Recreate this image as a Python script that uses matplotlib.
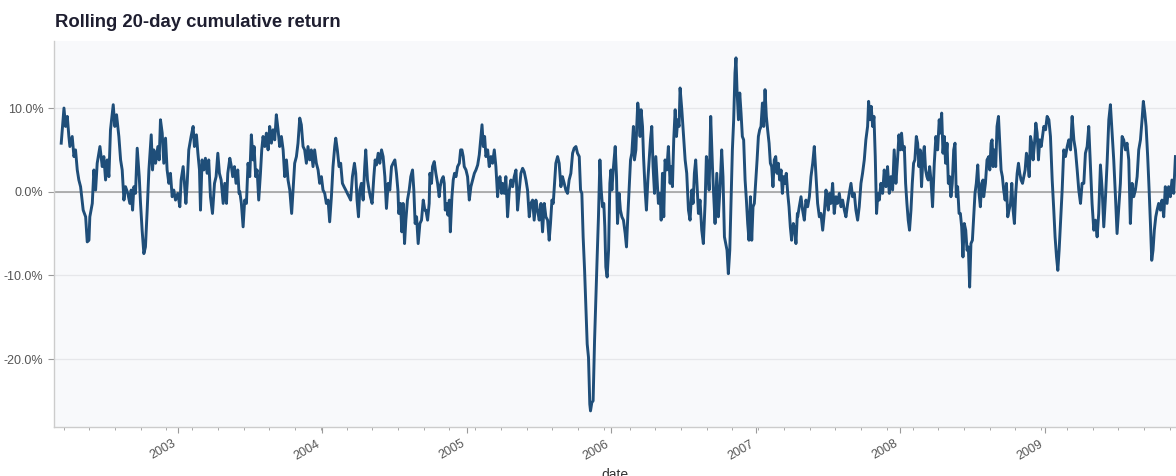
import matplotlib
matplotlib.use("Agg")
import matplotlib.pyplot as plt
from matplotlib.ticker import FuncFormatter, MultipleLocator
import matplotlib.dates as mdates
import pandas as pd

# sample times as fractional years
frac_year = [
    2002.195, 2002.214, 2002.225, 2002.237, 2002.248, 2002.255, 2002.271, 2002.283, 2002.294, 2002.306,
    2002.317, 2002.329, 2002.347, 2002.364, 2002.375, 2002.387, 2002.393, 2002.410, 2002.421, 2002.433,
    2002.444, 2002.463, 2002.479, 2002.490, 2002.502, 2002.513, 2002.525, 2002.536, 2002.555, 2002.566,
    2002.578, 2002.594, 2002.606, 2002.617, 2002.629, 2002.640, 2002.656, 2002.670, 2002.679, 2002.689,
    2002.698, 2002.709, 2002.721, 2002.735, 2002.744, 2002.755, 2002.767, 2002.778, 2002.790, 2002.802,
    2002.818, 2002.827, 2002.836, 2002.848, 2002.864, 2002.873, 2002.882, 2002.894, 2002.905, 2002.917,
    2002.928, 2002.940, 2002.951, 2002.963, 2002.974, 2002.986, 2003.002, 2003.016, 2003.025, 2003.039,
    2003.048, 2003.058, 2003.067, 2003.078, 2003.094, 2003.108, 2003.117, 2003.131, 2003.141, 2003.152,
    2003.159, 2003.170, 2003.182, 2003.193, 2003.205, 2003.216, 2003.228, 2003.242, 2003.256, 2003.267,
    2003.279, 2003.290, 2003.302, 2003.316, 2003.327, 2003.339, 2003.348, 2003.362, 2003.373, 2003.382,
    2003.394, 2003.405, 2003.417, 2003.426,
    2003.431, 2003.442, 2003.454, 2003.465, 2003.477, 2003.488, 2003.500, 2003.511, 2003.523, 2003.530,
    2003.541, 2003.551, 2003.562, 2003.574, 2003.583, 2003.592, 2003.604, 2003.615, 2003.627, 2003.638,
    2003.650, 2003.661, 2003.673, 2003.684, 2003.696, 2003.707, 2003.719, 2003.731, 2003.742, 2003.754,
    2003.765, 2003.777, 2003.790, 2003.800, 2003.811, 2003.823, 2003.834, 2003.846, 2003.857, 2003.869,
    2003.880, 2003.892, 2003.903, 2003.915, 2003.926, 2003.938, 2003.949, 2003.961, 2003.973, 2003.984,
    2003.996, 2004.007, 2004.019, 2004.030, 2004.042, 2004.053, 2004.065, 2004.076, 2004.088, 2004.095,
    2004.106, 2004.118, 2004.129, 2004.141, 2004.152, 2004.164, 2004.175, 2004.187, 2004.198, 2004.210,
    2004.224, 2004.233, 2004.242, 2004.252, 2004.261, 2004.272, 2004.284, 2004.295, 2004.302, 2004.314,
    2004.325, 2004.334, 2004.346, 2004.358, 2004.367, 2004.376, 2004.388, 2004.399, 2004.411, 2004.422,
    2004.434, 2004.445, 2004.457, 2004.468, 2004.480, 2004.491, 2004.503, 2004.514, 2004.524, 2004.530,
    2004.542, 2004.551, 2004.560, 2004.570, 2004.579, 2004.590, 2004.602, 2004.613, 2004.625, 2004.634,
    2004.643, 2004.653, 2004.664, 2004.676, 2004.687, 2004.699, 2004.710,
    2004.717, 2004.729, 2004.740, 2004.745, 2004.756, 2004.763, 2004.775, 2004.786, 2004.798, 2004.809,
    2004.816, 2004.826, 2004.837, 2004.844, 2004.851, 2004.860, 2004.869, 2004.879, 2004.886, 2004.897,
    2004.906, 2004.915, 2004.925, 2004.936, 2004.948, 2004.957, 2004.966, 2004.975, 2004.982, 2004.994,
    2005.005, 2005.017, 2005.028, 2005.040, 2005.052, 2005.063, 2005.075, 2005.086, 2005.098, 2005.105,
    2005.114, 2005.123, 2005.132, 2005.144, 2005.155, 2005.167, 2005.178, 2005.190, 2005.201, 2005.213,
    2005.220, 2005.229, 2005.241, 2005.247, 2005.259, 2005.270, 2005.282, 2005.294, 2005.305, 2005.317,
    2005.328, 2005.340, 2005.351, 2005.363, 2005.374, 2005.386, 2005.397, 2005.409, 2005.420, 2005.432,
    2005.443, 2005.455, 2005.466, 2005.478, 2005.489, 2005.501, 2005.513, 2005.524, 2005.536, 2005.547,
    2005.559, 2005.570, 2005.579, 2005.589, 2005.598, 2005.607, 2005.616, 2005.628, 2005.639, 2005.651,
    2005.662, 2005.674, 2005.685, 2005.697, 2005.708, 2005.720, 2005.732, 2005.743, 2005.755, 2005.766,
    2005.778, 2005.787, 2005.796, 2005.805, 2005.815, 2005.824, 2005.833, 2005.842, 2005.851, 2005.856,
    2005.865, 2005.874, 2005.884, 2005.893, 2005.902, 2005.911, 2005.921, 2005.930, 2005.939, 2005.948,
    2005.955, 2005.962, 2005.971, 2005.981, 2005.990, 2005.997,
    2006.004, 2006.015, 2006.027, 2006.036, 2006.043, 2006.054, 2006.063, 2006.073, 2006.084, 2006.096,
    2006.105, 2006.114, 2006.123, 2006.133, 2006.142, 2006.153, 2006.160, 2006.170, 2006.176, 2006.183,
    2006.193, 2006.199, 2006.206, 2006.216, 2006.223, 2006.234, 2006.243, 2006.253, 2006.262, 2006.271,
    2006.280, 2006.289, 2006.299, 2006.308, 2006.317, 2006.326, 2006.338, 2006.345, 2006.354, 2006.363,
    2006.372, 2006.384, 2006.395, 2006.407, 2006.414, 2006.423, 2006.432, 2006.442, 2006.451, 2006.460,
    2006.469, 2006.476, 2006.488, 2006.499, 2006.511, 2006.522, 2006.534, 2006.545, 2006.557, 2006.566,
    2006.575, 2006.584, 2006.594, 2006.603, 2006.614, 2006.626, 2006.637, 2006.649, 2006.658, 2006.667,
    2006.677, 2006.688, 2006.700, 2006.707, 2006.718, 2006.730, 2006.741, 2006.753, 2006.764, 2006.773,
    2006.783, 2006.792, 2006.801, 2006.810, 2006.820, 2006.829, 2006.838, 2006.847, 2006.856, 2006.863,
    2006.870, 2006.880, 2006.889, 2006.898, 2006.907, 2006.916, 2006.926, 2006.935, 2006.944, 2006.953,
    2006.963, 2006.972, 2006.981, 2006.990, 2006.999, 2007.009, 2007.018, 2007.027, 2007.036, 2007.046,
    2007.055, 2007.064, 2007.073, 2007.082, 2007.092, 2007.101, 2007.110, 2007.119, 2007.128, 2007.138,
    2007.147, 2007.156, 2007.165, 2007.175, 2007.184, 2007.193, 2007.202, 2007.211, 2007.221, 2007.230,
    2007.239, 2007.248, 2007.260, 2007.271, 2007.278, 2007.288,
    2007.290, 2007.301, 2007.313, 2007.324, 2007.336, 2007.347, 2007.359, 2007.371, 2007.382, 2007.394,
    2007.405, 2007.417, 2007.428, 2007.440, 2007.451, 2007.463, 2007.474, 2007.486, 2007.493, 2007.502,
    2007.511, 2007.520, 2007.532, 2007.543, 2007.555, 2007.566, 2007.578, 2007.590, 2007.601, 2007.613,
    2007.624, 2007.636, 2007.647, 2007.659, 2007.670, 2007.682, 2007.693, 2007.705, 2007.716, 2007.728,
    2007.739, 2007.751, 2007.762, 2007.774, 2007.781, 2007.790, 2007.799, 2007.809, 2007.818, 2007.827,
    2007.836, 2007.845, 2007.855, 2007.866, 2007.878, 2007.889, 2007.901, 2007.912, 2007.924, 2007.935,
    2007.947, 2007.958, 2007.970, 2007.981, 2007.991, 2008.000, 2008.009, 2008.018, 2008.028, 2008.037,
    2008.046, 2008.055, 2008.064, 2008.074, 2008.083, 2008.092, 2008.101, 2008.111, 2008.120, 2008.129,
    2008.138, 2008.147, 2008.157, 2008.166, 2008.175, 2008.184, 2008.193, 2008.203, 2008.212, 2008.223,
    2008.235, 2008.246, 2008.258, 2008.269, 2008.276, 2008.286, 2008.295, 2008.304, 2008.313, 2008.323,
    2008.332, 2008.341, 2008.350, 2008.359, 2008.369, 2008.378, 2008.387, 2008.396, 2008.406, 2008.415,
    2008.424, 2008.433, 2008.442, 2008.452, 2008.461, 2008.470, 2008.479, 2008.488, 2008.498, 2008.507,
    2008.516, 2008.525, 2008.535, 2008.544, 2008.553, 2008.562, 2008.571,
    2008.576, 2008.588, 2008.599, 2008.611, 2008.618, 2008.627, 2008.634, 2008.641, 2008.650, 2008.659,
    2008.668, 2008.678, 2008.687, 2008.696, 2008.705, 2008.714, 2008.724, 2008.733, 2008.742, 2008.751,
    2008.761, 2008.770, 2008.779, 2008.788, 2008.797, 2008.807, 2008.816, 2008.825, 2008.834, 2008.844,
    2008.853, 2008.862, 2008.871, 2008.880, 2008.890, 2008.899, 2008.908, 2008.917, 2008.927, 2008.936,
    2008.945, 2008.954, 2008.963, 2008.973, 2008.982, 2008.991, 2009.003, 2009.014, 2009.026, 2009.037,
    2009.049, 2009.060, 2009.069, 2009.079, 2009.088, 2009.097, 2009.106, 2009.118, 2009.129, 2009.141,
    2009.153, 2009.164, 2009.176, 2009.187, 2009.199, 2009.210, 2009.222, 2009.233, 2009.245, 2009.256,
    2009.268, 2009.279, 2009.291, 2009.302, 2009.314, 2009.325, 2009.337, 2009.348, 2009.360, 2009.371,
    2009.383, 2009.395, 2009.406, 2009.418, 2009.429, 2009.441, 2009.452, 2009.464, 2009.475, 2009.487,
    2009.498, 2009.510, 2009.521, 2009.533, 2009.544, 2009.556, 2009.567, 2009.579, 2009.590, 2009.602,
    2009.613, 2009.625, 2009.637, 2009.648, 2009.660, 2009.671, 2009.680, 2009.690, 2009.699, 2009.710,
    2009.720, 2009.729, 2009.738, 2009.747, 2009.756, 2009.766, 2009.775, 2009.786, 2009.798, 2009.809,
    2009.821, 2009.832, 2009.844, 2009.855, 2009.867, 2009.878, 2009.890, 2009.902,
]

# rolling 20-day cumulative return, in percent
ret_pct = [
    5.8, 10.0, 7.8, 9.0, 6.6, 5.4, 6.6, 4.2, 5.0, 2.6,
    1.4, 0.6, -2.2, -3.0, -6.0, -5.8, -3.0, -1.4, 2.6, 0.2,
    3.4, 5.4, 3.0, 4.2, 1.4, 3.8, 1.8, 7.4, 10.4, 7.8,
    9.2, 6.6, 3.8, 2.6, -1.0, 0.6, -0.2, -1.4, 0.2, -2.2,
    0.6, -0.2, 5.2, 1.8, -1.4, -4.6, -7.4, -6.6, -2.2, 2.6,
    6.8, 2.6, 5.0, 3.4, 5.4, 3.8, 8.6, 7.0, 3.4, 6.4,
    2.6, 1.0, 2.2, -0.6, 0.2, -1.0, -0.2, -1.8, 1.4, 3.0,
    1.0, -1.4, 1.0, 5.0, 6.6, 7.8, 5.4, 6.8, 4.6, 2.6,
    -2.2, 3.8, 2.6, 4.0, 2.2, 3.8, -0.6, -2.6, 1.0, 1.8,
    4.6, 2.2, 1.4, -1.4, 1.0, -1.4, 2.2, 4.0, 3.0, 1.8,
    3.0, 1.0, 2.6, -0.2,
    0.0, -1.4, -4.2, -1.0, -1.4, 3.4, 1.8, 6.8, 3.8, 5.4,
    1.8, 2.6, -1.0, 2.2, 5.0, 6.6, 5.4, 7.0, 5.0, 7.8,
    5.8, 7.4, 6.2, 9.2, 7.4, 5.4, 6.6, 5.0, 1.8, 3.8,
    1.4, 0.2, -2.6, 0.2, 3.4, 4.2, 5.8, 8.8, 8.0, 5.4,
    5.0, 3.4, 5.4, 3.8, 5.0, 3.0, 5.0, 3.4, 2.6, 1.0,
    1.8, 0.2, -0.2, -1.4, -1.0, -3.6, -0.6, 3.0, 5.4, 6.4,
    5.0, 3.0, 3.4, 1.0, 0.6, 0.2, -0.2, -0.6, -1.0, 1.8,
    3.4, 2.2, -1.0, -3.0, 0.2, 1.0, -1.0, 3.0, 5.0, 1.4,
    0.2, -0.6, -1.4, 1.8, 3.8, 3.2, 4.6, 3.4, 5.0, 4.2,
    1.8, -2.0, 1.0, 0.2, 3.0, 3.4, 3.8, 2.2, 0.2, -2.6,
    -1.4, -4.8, -1.4, -6.2, -3.4, -1.0, 0.2, 1.8, 2.6, 0.2,
    -3.8, -3.0, -6.2, -3.8, -3.4, -1.0, -2.2,
    -2.2, -3.4, -1.4, 2.2, 1.0, 3.0, 3.6, 2.2, 1.0, -0.6,
    0.6, 1.4, 1.8, 1.0, -2.2, -1.4, -2.8, -1.0, -4.8, -0.6,
    1.4, 2.2, 1.8, 3.0, 3.4, 5.0, 5.0, 4.2, 3.0, 2.6,
    1.8, -1.0, 0.6, 1.4, 2.2, 2.6, 3.2, 4.4, 6.6, 8.0,
    5.4, 6.6, 4.2, 5.0, 3.0, 4.2, 3.4, 5.0, 3.0, -0.6,
    1.0, 1.8, -0.2, 1.0, -0.2, 1.8, -3.0, 0.2, 1.4, 0.6,
    1.8, 2.6, -2.2, 0.2, 2.2, 2.8, 2.4, 1.4, 0.2, -3.0,
    -1.4, -1.0, -3.4, -1.0, -2.2, -3.4, -1.4, -4.8, -1.4, -3.0,
    -3.4, -5.8, -3.8, -1.0, -1.4, 1.0, 3.4, 4.2, 3.4, 0.6,
    1.8, 1.0, 0.2, -0.2, 1.4, 2.2, 4.6, 5.2, 5.4, 4.6,
    4.2, 0.2, -0.2, -5.4, -9.4, -13.8, -18.2, -19.8, -25.4, -26.2,
    -25.2, -25.0, -17.8, -12.6, -7.8, -3.0, 3.8, 0.2, -1.8, -1.4,
    -4.2, -9.0, -10.2, -7.0, 1.0, 2.6,
    0.2, 3.0, 5.4, 1.8, -3.8, -0.2, -2.2, -3.0, -3.4, -5.0,
    -6.6, -3.0, 0.2, 3.8, 4.6, 7.8, 3.8, 5.0, 7.8, 10.6,
    9.0, 6.6, 9.8, 7.8, 4.2, 0.2, -2.2, 1.4, 3.8, 6.2,
    7.8, 3.0, -0.2, 4.2, 1.4, -1.4, -0.2, -3.4, 2.2, -3.0,
    3.8, 2.6, 5.4, 1.0, 3.0, 0.6, 6.2, 9.8, 6.6, 8.6,
    7.8, 12.4, 9.8, 7.0, 3.8, 2.2, -2.2, -3.4, 0.2, -1.4,
    2.2, 3.8, 0.6, -2.6, -1.0, -4.6, -6.2, -1.4, 4.2, 3.0,
    0.2, 9.0, 3.0, 0.2, -3.8, 2.2, -3.0, 0.6, 5.0, 1.8,
    -5.4, -6.2, -7.0, -9.8, -7.0, -1.0, 5.0, 8.6, 14.2, 16.0,
    12.2, 8.6, 11.8, 9.4, 6.6, 6.2, 1.4, -1.0, -3.8, -5.8,
    -0.6, -5.8, -1.8, -1.4, 1.0, 3.8, 6.6, 7.4, 7.8, 10.6,
    7.8, 12.2, 9.0, 7.4, 5.8, 3.4, 3.0, 0.6, 3.8, 4.2,
    2.2, 3.4, 1.4, 2.6, -0.2, 1.8, 1.0, 2.2, -0.2, -1.8,
    -4.2, -5.8, -3.8, -4.6, -6.2, -2.6,
    -3.0, -1.8, -0.6, -2.2, -3.4, -1.0, -1.8, -0.6, 1.8, 3.4,
    5.4, 1.8, -1.4, -3.0, -2.6, -4.6, -2.6, 0.2, -1.0, -2.2,
    -0.2, -1.4, 1.0, -2.6, -0.6, -1.4, -0.2, -1.8, -1.0, -2.2,
    -3.0, -1.4, -0.2, 1.0, -0.6, -0.2, -2.2, -3.4, -1.8, 1.0,
    2.2, 3.8, 6.2, 7.8, 10.8, 8.6, 10.2, 7.8, 9.0, 4.2,
    -2.6, -0.2, -1.0, 1.0, -0.2, 2.6, 0.6, 3.0, -0.2, 1.8,
    0.2, 5.0, 1.0, 3.8, 6.8, 5.0, 7.0, 5.0, 5.4, 1.0,
    -1.4, -3.4, -4.6, -2.2, 1.0, 3.4, 3.8, 6.6, 5.8, 3.0,
    5.0, 0.6, 4.2, 5.4, 2.6, 1.8, 1.4, 3.0, 1.4, -1.8,
    3.4, 6.6, 5.0, 8.6, 7.0, 9.4, 4.6, 6.6, 3.4, 5.8,
    1.0, 1.8, -0.6, 1.0, 5.0, 5.8, -0.6, 0.6, -2.6, -2.6,
    -4.2, -7.8, -3.8, -4.6, -7.0, -6.6, -11.4, -6.2, -5.8, -3.0,
    -0.2, 1.0, 3.2, -0.2, -1.8, 1.0, 1.4,
    -0.6, 1.0, 3.8, 4.2, 2.6, 5.8, 6.2, 3.0, 5.0, 3.0,
    7.8, 9.0, 5.8, 2.6, 1.8, 0.2, -1.0, 1.0, -3.0, -2.2,
    -1.4, 1.0, -2.2, -3.8, -0.2, 2.2, 3.4, 2.2, 1.4, 1.0,
    1.8, 2.6, 4.6, 3.8, 1.8, 6.6, 5.8, 3.8, 5.8, 8.2,
    7.0, 3.8, 6.2, 5.4, 6.6, 7.8, 7.4, 9.0, 8.6, 6.6,
    1.4, -2.2, -5.4, -7.8, -9.4, -7.0, -3.8, 0.2, 5.0, 4.2,
    5.4, 6.2, 5.0, 9.0, 6.2, 5.0, 2.6, 0.2, -1.4, 1.0,
    1.0, 4.6, 5.4, 7.8, 3.0, -1.4, -4.6, -3.4, -5.4, -2.6,
    3.2, 0.2, -4.2, -0.6, 3.4, 8.6, 10.4, 7.0, 3.8, -0.6,
    -5.0, -1.8, 1.0, 6.6, 6.2, 5.0, 5.8, 3.8, -3.8, 1.0,
    -0.6, 0.2, 1.8, 5.0, 6.2, 8.6, 10.8, 9.4, 7.8, 4.2,
    0.2, -3.8, -8.2, -7.0, -4.6, -3.0, -2.2, -1.4, -2.2, -1.0,
    -3.0, 0.6, -1.4, 0.6, -0.6, 1.4, -0.2, 4.2,
]

# date range of the underlying index (window start .. last day)
index_start = 2002.145
index_end = 2009.906


def year_to_date(y):
    yr = int(y)
    start = pd.Timestamp(year=yr, month=1, day=1)
    ndays = (pd.Timestamp(year=yr + 1, month=1, day=1) - start).days
    return start + pd.Timedelta(days=(y - yr) * ndays)


dates = pd.DatetimeIndex([year_to_date(y) for y in frac_year])
rolling_ret = pd.Series([v / 100 for v in ret_pct], index=dates)

plt.rcParams['font.family'] = ['Liberation Sans', 'DejaVu Sans']

fig = plt.figure(figsize=(11.76, 4.76), dpi=100)
ax = fig.add_axes([54 / 1176, 1 - 427.3 / 476, 1 - 54 / 1176, (427.3 - 40.7) / 476])
ax.set_facecolor('#f8f9fb')

ax.plot(rolling_ret.index, rolling_ret.values, color='#1f4e79', lw=2.1, zorder=3)
ax.axhline(0, color='#9c9c9c', lw=1.1, zorder=2)

ax.set_xlim(year_to_date(index_start), year_to_date(index_end))
ax.set_ylim(-0.2816, 0.1805)

ax.yaxis.set_major_locator(MultipleLocator(0.1))
ax.yaxis.set_major_formatter(FuncFormatter(lambda v, _: f"{v * 100:.1f}%"))
ax.grid(axis='y', color='#e6e7ea', lw=0.9, zorder=1)
ax.set_axisbelow(True)

ax.xaxis.set_major_locator(mdates.YearLocator())
ax.xaxis.set_major_formatter(mdates.DateFormatter('%Y'))
ax.xaxis.set_minor_locator(MultipleLocator(65))
for lbl in ax.get_xticklabels():
    lbl.set_rotation(30)
    lbl.set_ha('right')

ax.tick_params(axis='both', which='major', labelsize=9, labelcolor='#555555', color='#9a9a9a', length=4)
ax.tick_params(axis='x', which='minor', color='#9a9a9a', length=2.5)

for s in ['top', 'right']:
    ax.spines[s].set_visible(False)
for s in ['left', 'bottom']:
    ax.spines[s].set_color('#cccccc')
    ax.spines[s].set_linewidth(1.0)

ax.set_xlabel('date', fontsize=10, color='#333333', labelpad=4)

fig.text(55 / 1176, 1 - 26.7 / 476, 'Rolling 20-day cumulative return',
         fontsize=13.3, fontweight='bold', color='#1e1e30', ha='left', va='baseline')

fig.savefig('out.png', dpi=100)
